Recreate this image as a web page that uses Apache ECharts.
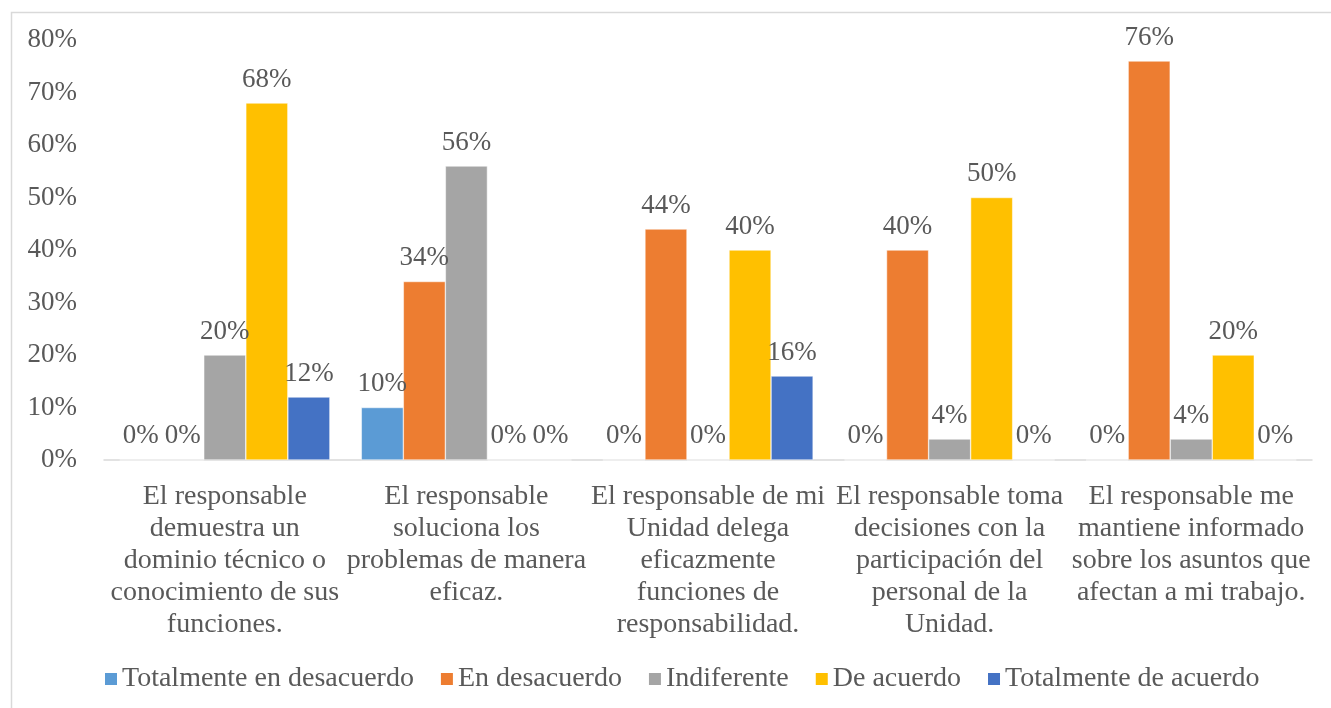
<!DOCTYPE html>
<html>
<head>
<meta charset="utf-8">
<script src="https://cdn.jsdelivr.net/npm/echarts@6/dist/echarts.min.js"></script>
<style>
  html, body { margin: 0; padding: 0; background: #fff; }
  #chart { width: 1331px; height: 708px; }
</style>
</head>
<body>
<div id="chart"></div>
<script>
// Survey items (wrapped as they appear under the axis)
const categories = [
  'El responsable\ndemuestra un\ndominio técnico o\nconocimiento de sus\nfunciones.',
  'El responsable\nsoluciona los\nproblemas de manera\neficaz.',
  'El responsable de mi\nUnidad delega\neficazmente\nfunciones de\nresponsabilidad.',
  'El responsable toma\ndecisiones con la\nparticipación del\npersonal de la\nUnidad.',
  'El responsable me\nmantiene informado\nsobre los asuntos que\nafectan a mi trabajo.'
];

// Response shares, in percent
const totalmenteDesacuerdo = [0, 10, 0, 0, 0];
const enDesacuerdo = [0, 34, 44, 40, 76];
const indiferente = [20, 56, 0, 4, 4];
const deAcuerdo = [68, 0, 40, 50, 20];
const totalmenteAcuerdo = [12, 0, 16, 0, 0];

const seriesNames = ['Totalmente en desacuerdo', 'En desacuerdo', 'Indiferente', 'De acuerdo', 'Totalmente de acuerdo'];
const seriesData = [totalmenteDesacuerdo, enDesacuerdo, indiferente, deAcuerdo, totalmenteAcuerdo];
const colors = ['#5B9BD5', '#ED7D31', '#A5A5A5', '#FFC000', '#4472C4'];

const font = '"Liberation Serif", "Times New Roman", serif';
const textColor = '#595959';

const chart = echarts.init(document.getElementById('chart'));
chart.setOption({
  animation: false,
  color: colors,
  textStyle: { fontFamily: font },
  graphic: [{
    type: 'rect',
    shape: { x: 11.5, y: 12.5, width: 1330, height: 710 },
    style: { fill: 'none', stroke: '#d9d9d9', lineWidth: 1.5 },
    silent: true,
    z: -1
  }],
  legend: {
    bottom: 10,
    left: 98,
    itemWidth: 14,
    itemHeight: 14,
    itemGap: 25,
    icon: 'rect',
    textStyle: { fontFamily: font, fontSize: 28, color: textColor, padding: [0, 0, 0, -1] },
    data: seriesNames
  },
  grid: { left: 104, right: 19, top: 40, bottom: 248 },
  xAxis: {
    type: 'category',
    data: categories,
    axisLine: { lineStyle: { color: '#d9d9d9', width: 1.5 } },
    axisTick: { show: false },
    axisLabel: {
      interval: 0,
      margin: 21,
      fontFamily: font,
      fontSize: 28,
      lineHeight: 32,
      color: textColor,
      align: 'center'
    }
  },
  yAxis: {
    type: 'value',
    min: 0,
    max: 80,
    interval: 10,
    axisLine: { show: false },
    axisTick: { show: false },
    splitLine: { show: false },
    axisLabel: {
      fontFamily: font,
      fontSize: 27,
      color: textColor,
      margin: 27,
      formatter: '{value}%'
    }
  },
  series: seriesNames.map((name, i) => ({
    name: name,
    type: 'bar',
    data: seriesData[i],
    barGap: '0%',
    barCategoryGap: '13%',
    itemStyle: { color: colors[i], borderColor: '#fff', borderWidth: 0.5 },
    label: {
      show: true,
      position: 'top',
      distance: 10,
      formatter: '{c}%',
      fontFamily: font,
      fontSize: 27,
      color: textColor
    }
  }))
});
</script>
</body>
</html>
